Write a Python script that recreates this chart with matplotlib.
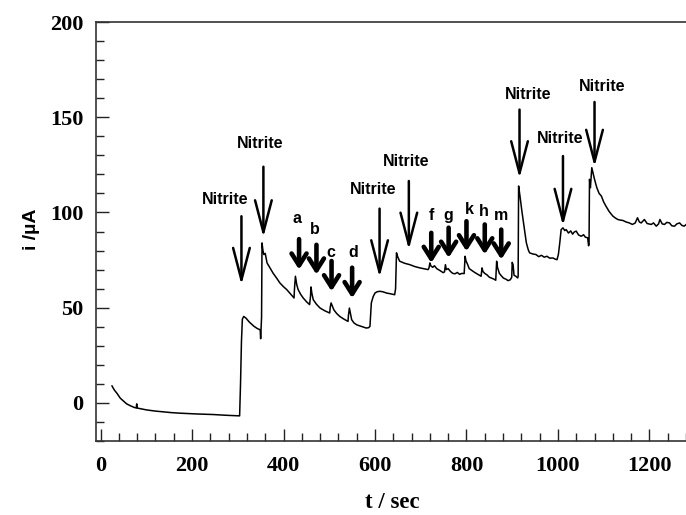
import matplotlib
matplotlib.use("Agg")
import matplotlib.pyplot as plt
from matplotlib.ticker import MultipleLocator

# ---- data ----
time_s = [25, 30, 36, 43, 50, 57, 66, 75, 78, 79, 80, 90, 101, 120, 137, 155, 174, 210, 246, 275, 301,
          304, 306, 308, 310, 313, 318, 325, 335, 343, 349, 350, 352, 353, 355, 357, 360, 364, 370, 377,
          385, 392, 400, 407, 415, 423, 424, 426, 429, 432, 437, 443, 450, 457, 459, 460, 462, 465, 472,
          480, 490, 501, 502, 504, 510, 516, 523, 532, 541, 542, 544, 549, 554, 560, 570, 581, 586, 589,
          592, 596, 600, 605, 611, 618, 625, 634, 643, 645, 647, 650, 654, 665, 676, 687, 698, 708, 716,
          718, 720, 722, 726, 730, 735, 742, 749, 752, 754, 756, 760, 765, 770, 775, 780, 785, 790, 795,
          797, 799, 802, 806, 812, 818, 825, 832, 834, 836, 840, 845, 850, 855, 860, 864, 866, 868, 872,
          876, 881, 886, 891, 896, 899, 900, 902, 904, 908, 912, 913, 914, 917, 921, 925, 928, 931, 935,
          938, 945, 952, 958, 964, 970, 976, 982, 989, 994, 998, 1001, 1004, 1007, 1011, 1015, 1018, 1023,
          1028, 1032, 1036, 1040, 1045, 1051, 1056, 1060, 1065, 1067, 1068, 1069, 1071, 1074, 1077, 1080,
          1085, 1090, 1095, 1100, 1105, 1112, 1120, 1126, 1131, 1136, 1142, 1149, 1156, 1163, 1169, 1174,
          1178, 1182, 1186, 1189, 1195, 1204, 1209, 1215, 1220, 1223, 1228, 1233, 1238, 1244, 1249, 1255,
          1260, 1266, 1271, 1276, 1280]
current_uA = [8.9, 6.8, 5.0, 2.5, 1.0, -0.5, -1.6, -2.5, -2.6, -0.5, -2.7, -3.2, -3.7, -4.3, -4.7, -5.1, -5.4, -5.8, -6.1, -6.5, -6.8,
              -6.8, 10, 32, 44, 45.4, 44.5, 42.5, 40.3, 39.0, 38.4, 33.7, 45, 84.0, 80, 77.9, 78.5, 73.5, 71.0, 68.2,
              65.5, 63.0, 61.0, 59.5, 57.3, 55.1, 60, 66.5, 62, 59.5, 57.2, 55.1, 53.2, 51.6, 56, 60.9, 57.5, 54.2, 51.8,
              49.8, 48.4, 47.2, 50, 52.5, 48.9, 47.0, 45.4, 44.0, 42.8, 46, 49.8, 43.7, 42.0, 41.0, 40.2, 39.3, 39.5, 40.2,
              52.5, 55.8, 57.7, 58.4, 58.6, 58.3, 57.7, 57.3, 56.8, 60, 78.8, 76.5, 74.4, 73.3, 72.6, 71.6, 70.9, 70.4, 70.0,
              70.8, 73.5, 72.0, 71.2, 72.0, 70.5, 69.5, 68.4, 68.8, 72.6, 70.0, 70.5, 69.0, 68.0, 67.8, 68.5, 67.5, 68.0, 67.9,
              77.0, 74.5, 73.0, 70.5, 69.5, 68.5, 67.5, 66.5, 70.9, 69.0, 68.0, 67.2, 66.0, 65.5, 65.0, 64.4, 74.4, 71.0, 68.0,
              66.8, 65.5, 65.0, 64.2, 64.7, 66.0, 73.8, 72.5, 67.0, 66.5, 65.6, 66.5, 113.9, 108.6, 101.0, 94.0, 89.0, 84.0, 80.5,
              78.8, 78.2, 77.9, 76.8, 77.5, 76.5, 77.0, 76.0, 76.1, 75.5, 75.2, 78.0, 84.0, 91.0, 91.9, 90.5, 91.0, 89.2,
              90.3, 88.6, 89.8, 90.2, 88.2, 87.5, 88.3, 87.0, 86.7, 82.5, 83.5, 117.4, 113.0, 123.5, 120.5, 117.4,
              113.0, 110.0, 108.6, 105.5, 103.3, 100.5, 98.1, 97.0, 96.3, 96.0, 95.8, 95.0, 94.5, 93.7, 94.5, 97.2,
              95.0, 94.5, 95.5, 96.3, 94.2, 93.7, 94.5, 92.8, 94.0, 96.3, 94.0, 93.7, 94.8, 94.5, 93.0, 92.8,
              94.0, 94.5, 93.2, 92.8, 93.6]

# Nitrite additions: arrow x, arrow top, arrow tip, label x, label y
nitrite_t = [308, 356, 610, 674, 916, 1011, 1080]
nitrite_top = [98, 124, 102, 116.5, 154, 129.6, 158]
nitrite_tip = [62, 87, 66, 80.5, 118, 93, 124]
nitrite_lx = [272, 348, 596, 669, 934, 1005, 1097]
nitrite_ly = [107, 136, 112, 127, 162, 139, 166]

# lettered additions
letters = ["a", "b", "c", "d", "f", "g", "k", "h", "m"]
letter_t = [434, 472, 505, 550, 723, 761, 800, 840, 876]
letter_top = [86, 83, 74.5, 71, 89.3, 92, 95.4, 93.7, 91]
letter_tip = [70, 67.4, 58.6, 55, 73.5, 76.2, 79.6, 78, 75.3]
letter_lx = [429, 469, 503, 552, 723, 760, 807, 838, 876]
letter_ly = [97, 91, 79, 79, 98.4, 98.4, 101.6, 100.7, 98.4]

x_ticks = [0, 200, 400, 600, 800, 1000, 1200]
y_ticks = [0, 50, 100, 150, 200]

# ---- figure ----
fig = plt.figure(figsize=(6.86, 5.15), dpi=100)
ax = fig.add_axes([96 / 686, 74 / 515, 590 / 686, 419 / 515])

ax.plot(time_s, current_uA, color="black", lw=1.1)

ax.set_xlim(-10, 1280)
ax.set_ylim(-20, 200)
ax.set_xticks(x_ticks)
ax.set_yticks(y_ticks)
ax.xaxis.set_minor_locator(MultipleLocator(40))
ax.yaxis.set_minor_locator(MultipleLocator(10))
ax.tick_params(which="both", direction="in", width=1.0, colors="#222222")
ax.tick_params(which="major", length=9)
ax.tick_params(which="minor", length=5.5)
ax.tick_params(axis="x", pad=11)
ax.tick_params(axis="y", pad=9)
for lab in ax.get_xticklabels() + ax.get_yticklabels():
    lab.set_fontfamily("Liberation Serif")
    lab.set_fontweight("bold")
    lab.set_fontsize(16)
    lab.set_color("black")
ax.spines["right"].set_visible(False)
for s in ["left", "bottom", "top"]:
    ax.spines[s].set_linewidth(1.2)
    ax.spines[s].set_color("#333333")

fig.text(392 / 686, 1 - 503 / 515, "t / sec", ha="center", va="center",
         fontfamily="Liberation Serif", fontweight="bold", fontsize=16.5)
fig.text(31 / 686, 1 - 229 / 515, "i /\u00b5A", ha="center", va="center", rotation=90,
         fontfamily="Liberation Sans", fontweight="bold", fontsize=14)

for t, top, tip, lx, ly in zip(nitrite_t, nitrite_top, nitrite_tip, nitrite_lx, nitrite_ly):
    ax.annotate("", xy=(t, tip), xytext=(t, top),
                arrowprops=dict(arrowstyle="->,head_length=2.3,head_width=0.6",
                                lw=1.8, color="black", shrinkA=0, shrinkB=0))
    ax.text(lx, ly, "Nitrite", ha="center", va="center", fontfamily="Liberation Sans",
            fontweight="bold", fontsize=11.5)

for name, t, top, tip, lx, ly in zip(letters, letter_t, letter_top, letter_tip, letter_lx, letter_ly):
    ax.annotate("", xy=(t, tip), xytext=(t, top),
                arrowprops=dict(arrowstyle="->,head_length=0.85,head_width=0.54",
                                lw=3.3, color="black", shrinkA=0, shrinkB=0))
    ax.text(lx, ly, name, ha="center", va="center", fontfamily="Liberation Sans",
            fontweight="bold", fontsize=11.5)

fig.savefig("out.png", dpi=100)
